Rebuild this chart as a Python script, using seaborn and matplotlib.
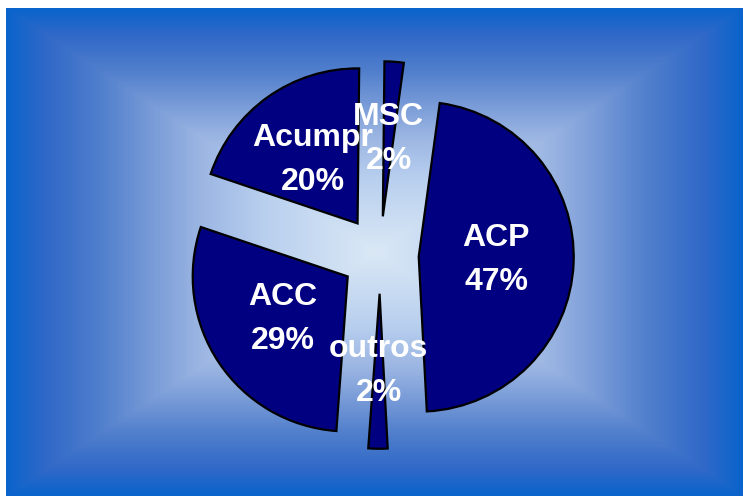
import numpy as np
import matplotlib
matplotlib.use("Agg")
import matplotlib.pyplot as plt
import seaborn as sns
from matplotlib.colors import LinearSegmentedColormap

# Data
categories = ["ACP", "MSC", "Acumpr", "ACC", "outros"]
shares = [47, 2, 20, 29, 2]

sns.set_theme(style="white")
plt.rcParams["font.family"] = ["Liberation Sans", "DejaVu Sans"]

W, H = 743, 496
fig = plt.figure(figsize=(W / 100, H / 100), dpi=100)
fig.patch.set_facecolor("white")
ax = fig.add_axes([0, 0, 1, 1])

# rectangular gradient background (light centre, blue edges)
x0, x1, y0, y1 = 6, W, 0, H - 8
gx = np.linspace(-1, 1, 400)
gy = np.linspace(-1, 1, 300)
XX, YY = np.meshgrid(gx, gy)
t = np.maximum(np.abs(XX), np.abs(YY))
grad = LinearSegmentedColormap.from_list("bg", [
    (0.0, "#dae8f6"), (0.3, "#b8cfee"), (0.48, "#9ab4e2"),
    (0.6, "#7a9cd8"), (0.75, "#4f7ecc"), (0.9, "#2f68c8"),
    (1.0, "#0a64cc")])
ax.imshow(t, cmap=grad, extent=[x0, x1, y0, y1], origin="lower",
          aspect="auto", interpolation="bilinear", zorder=0)

radius = 155
labels = [f"{c}\n{v}%" for c, v in zip(categories, shares)]
wedges, texts = ax.pie(
    shares,
    labels=labels,
    startangle=-87,
    counterclock=True,
    explode=[0.25 * radius] * len(shares),
    radius=radius,
    center=(380, H - 255),
    colors=["#000080"] * len(shares),
    wedgeprops=dict(edgecolor="black", linewidth=1.6),
    labeldistance=0.5,
    textprops=dict(color="white", fontsize=23, fontweight="bold",
                   ha="center", va="center", linespacing=1.6),
    frame=True,
)
for w in wedges:
    w.set_zorder(2)
for tx in texts:
    tx.set_zorder(3)
    tx.set_horizontalalignment("center")

ax.set_xlim(0, W)
ax.set_ylim(0, H)
ax.set_aspect("auto")
ax.axis("off")

fig.savefig("out.png", dpi=100, facecolor="white")
